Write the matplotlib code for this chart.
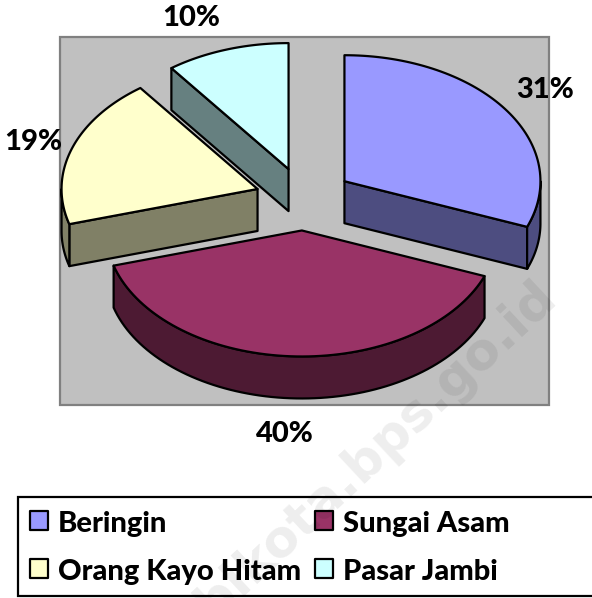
#!/usr/bin/env python3
"""Exploded pseudo-3D pie chart of share per kecamatan, with boxed legend."""
import numpy as np
import matplotlib
matplotlib.use("Agg")
import matplotlib.pyplot as plt
from matplotlib.patches import Polygon, Rectangle

categories = ["Beringin", "Sungai Asam", "Orang Kayo Hitam", "Pasar Jambi"]
shares = [30.9, 39.6, 19.3, 10.2]
top_colors = ["#9999FF", "#993366", "#FFFFCC", "#CCFFFF"]
side_colors = ["#4D4D80", "#4D1A33", "#808066", "#668080"]

# pie geometry, in picture pixels
CX, CY = 304, 199
RX, RY = 196, 126
DEPTH = 42
EXPLODE = 0.25
LW = 1.6

plt.rcParams["font.family"] = ["Lato", "DejaVu Sans"]
plt.rcParams["font.weight"] = "bold"

fig = plt.figure(figsize=(5.92, 5.98), dpi=100)
ax = fig.add_axes([0, 0, 1, 1])
ax.set_xlim(0, 592)
ax.set_ylim(598, 0)
ax.axis("off")

ax.add_patch(Rectangle((60, 37), 489, 368, facecolor="#C0C0C0", edgecolor="#808080", linewidth=1.6, zorder=1))


def arc(apex, a0, a1):
    t = np.linspace(a0, a1, 80)
    return np.column_stack([apex[0] + RX * np.sin(t), apex[1] - RY * np.cos(t)])


def draw_slice(start, end, top, side, z):
    mid = (start + end) / 2
    apex = (CX + EXPLODE * RX * np.sin(mid), CY - EXPLODE * RY * np.cos(mid))
    down = np.array([0, DEPTH])
    style = dict(edgecolor="black", linewidth=LW, joinstyle="round", zorder=z)
    # only the walls that face the viewer
    if np.sin(start) < -1e-6:
        edge = np.vstack([apex, arc(apex, start, start)[:1]])
        ax.add_patch(Polygon(np.vstack([edge, edge[::-1] + down]), facecolor=side, **style))
    if np.sin(end) > 1e-6:
        edge = np.vstack([apex, arc(apex, end, end)[:1]])
        ax.add_patch(Polygon(np.vstack([edge, edge[::-1] + down]), facecolor=side, **style))
    r0, r1 = max(start, np.pi / 2), min(end, 3 * np.pi / 2)
    if r1 > r0:
        rim = arc(apex, r0, r1)
        ax.add_patch(Polygon(np.vstack([rim, rim[::-1] + down]), facecolor=side, **style))
    ax.add_patch(Polygon(np.vstack([apex, arc(apex, start, end)]), facecolor=top, **style))


edges = np.cumsum([0] + shares) / sum(shares) * 2 * np.pi
# back to front
for i, z in zip([3, 2, 0, 1], [3, 4, 5, 6]):
    draw_slice(edges[i], edges[i + 1], top_colors[i], side_colors[i], z)

label_pos = [(545, 90), (285, 434), (33, 142), (191, 18)]
for share, (x, y) in zip(shares, label_pos):
    ax.text(x, y, f"{share:.0f}%", ha="center", va="center", fontsize=21, fontweight="black", color="black", zorder=8)

# legend box runs off the right edge in the source
ax.add_patch(Rectangle((18, 497), 600, 99, facecolor="white", edgecolor="black", linewidth=LW, zorder=2))
legend_pos = [(30, 511), (315, 511), (30, 559), (315, 559)]
for name, color, (x, y) in zip(categories, top_colors, legend_pos):
    ax.add_patch(Rectangle((x, y), 18, 19, facecolor=color, edgecolor="black", linewidth=LW, joinstyle="round", zorder=7))
    ax.text(x + 28, y + 13, name, ha="left", va="center", fontsize=21, fontweight="black", color="black", zorder=8)

# faint site watermark across the picture, starts off the bottom edge in the source
ax.text(560, 303, "jambikota.bps.go.id", rotation=43, rotation_mode="anchor", ha="right", va="baseline",
        fontsize=37, family="DejaVu Sans", fontweight="bold", color="black", alpha=0.07, zorder=9, clip_on=True)

fig.savefig("out.png", dpi=100)
